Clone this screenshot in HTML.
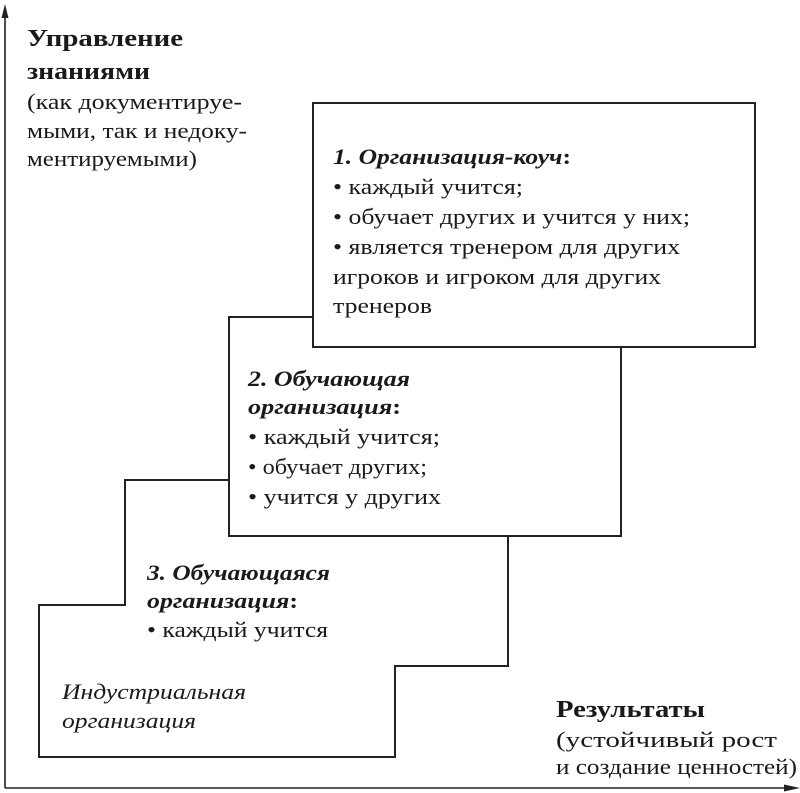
<!DOCTYPE html>
<html><head><meta charset="utf-8"><style>
html,body{margin:0;padding:0;background:#fff;}
svg{display:block;}
text{font-family:"Liberation Serif","DejaVu Serif",serif;fill:#1a1a1a;}
.t{font-size:22px;}
.b{font-size:24px;font-weight:bold;}
.bi{font-size:22px;font-weight:bold;font-style:italic;}
.i{font-size:22px;font-style:italic;}
</style></head><body>
<svg width="800" height="793" viewBox="0 0 800 793" xmlns="http://www.w3.org/2000/svg">
<g stroke="#222" fill="none" stroke-width="1.6">
<line x1="5" y1="12" x2="5" y2="788"/>
<line x1="5" y1="788" x2="790" y2="788"/>
</g>
<polygon points="5,4 1.5,18 8.5,18" fill="#222"/>
<polygon points="800,788 784,784.5 784,791.5" fill="#222"/>
<path d="M39,605 H125 V480 H229 V536 H508 V666 H395 V757 H39 Z" fill="#fff" stroke="#222" stroke-width="2"/>
<rect x="229" y="317" width="392" height="219" fill="#fff" stroke="#222" stroke-width="2"/>
<rect x="313" y="103" width="442" height="244" fill="#fff" stroke="#222" stroke-width="2"/>
<g lengthAdjust="spacingAndGlyphs">
<text class="b" x="27" y="46" textLength="156" lengthAdjust="spacingAndGlyphs">Управление</text>
<text class="b" x="27" y="79" textLength="123" lengthAdjust="spacingAndGlyphs">знаниями</text>
<text class="t" x="27" y="109" textLength="215" lengthAdjust="spacingAndGlyphs">(как документируе-</text>
<text class="t" x="27" y="138" textLength="220" lengthAdjust="spacingAndGlyphs">мыми, так и недоку-</text>
<text class="t" x="27" y="166" textLength="170" lengthAdjust="spacingAndGlyphs">ментируемыми)</text>
<text class="bi" x="333" y="164" textLength="238" lengthAdjust="spacingAndGlyphs">1. Организация-коуч<tspan font-style="normal">:</tspan></text>
<text class="t" x="333" y="194" textLength="190" lengthAdjust="spacingAndGlyphs">• каждый учится;</text>
<text class="t" x="333" y="224" textLength="357" lengthAdjust="spacingAndGlyphs">• обучает других и учится у них;</text>
<text class="t" x="333" y="254" textLength="347" lengthAdjust="spacingAndGlyphs">• является тренером для других</text>
<text class="t" x="333" y="284" textLength="328" lengthAdjust="spacingAndGlyphs">игроков и игроком для других</text>
<text class="t" x="333" y="313" textLength="99" lengthAdjust="spacingAndGlyphs">тренеров</text>
<text class="bi" x="248" y="386" textLength="162" lengthAdjust="spacingAndGlyphs">2. Обучающая</text>
<text class="bi" x="248" y="414" textLength="153" lengthAdjust="spacingAndGlyphs">организация<tspan font-style="normal">:</tspan></text>
<text class="t" x="248" y="444" textLength="192" lengthAdjust="spacingAndGlyphs">• каждый учится;</text>
<text class="t" x="248" y="474" textLength="179" lengthAdjust="spacingAndGlyphs">• обучает других;</text>
<text class="t" x="248" y="504" textLength="193" lengthAdjust="spacingAndGlyphs">• учится у других</text>
<text class="bi" x="147" y="580" textLength="183" lengthAdjust="spacingAndGlyphs">3. Обучающаяся</text>
<text class="bi" x="147" y="608" textLength="151" lengthAdjust="spacingAndGlyphs">организация<tspan font-style="normal">:</tspan></text>
<text class="t" x="147" y="637" textLength="181" lengthAdjust="spacingAndGlyphs">• каждый учится</text>
<text class="i" x="62" y="699" textLength="184" lengthAdjust="spacingAndGlyphs">Индустриальная</text>
<text class="i" x="62" y="728" textLength="134" lengthAdjust="spacingAndGlyphs">организация</text>
<text class="b" x="556" y="717" textLength="149" lengthAdjust="spacingAndGlyphs">Результаты</text>
<text class="t" x="556" y="747" textLength="221" lengthAdjust="spacingAndGlyphs">(устойчивый рост</text>
<text class="t" x="556" y="774" textLength="241" lengthAdjust="spacingAndGlyphs">и создание ценностей)</text>
</g>
</svg>
</body></html>
